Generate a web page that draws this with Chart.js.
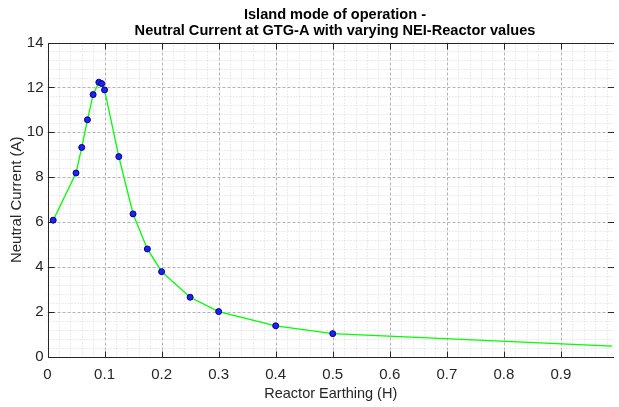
<!DOCTYPE html>
<html><head><meta charset="utf-8">
<script src="https://cdn.jsdelivr.net/npm/chart.js@4/dist/chart.umd.min.js"></script>
<style>html,body{margin:0;padding:0;background:#fff;overflow:hidden}#wrap{width:619px;height:407px;position:relative}</style>
</head><body><div id="wrap"><canvas id="c" width="619" height="407"></canvas></div>
<script>
// ---- data ----
const titleLines = ["Island mode of operation -", "Neutral Current at GTG-A with varying NEI-Reactor values"];
const xAxisTitle = "Reactor Earthing (H)";
const yAxisTitle = "Neutral Current (A)";
const xTicks = [0, 0.1, 0.2, 0.3, 0.4, 0.5, 0.6, 0.7, 0.8, 0.9];
const yTicks = [0, 2, 4, 6, 8, 10, 12, 14];
const reactorH = [0.01, 0.05, 0.06, 0.07, 0.08, 0.09, 0.095, 0.1, 0.125, 0.15, 0.175, 0.2, 0.25, 0.3, 0.4, 0.5];
const neutralA = [6.09, 8.19, 9.33, 10.56, 11.68, 12.23, 12.17, 11.89, 8.92, 6.37, 4.81, 3.80, 2.66, 2.02, 1.39, 1.04];
const tailH = [0.99];
const tailA = [0.48];
const xMax = 0.993;
const yMax = 14;

const markerPts = reactorH.map((h, i) => ({x: h, y: neutralA[i]}));
const linePts = markerPts.concat(tailH.map((h, i) => ({x: h, y: tailA[i]})));

const AX = '#262626';
const framePlugin = {
  id: 'frame',
  beforeDatasetsDraw(chart) {
    const {ctx, chartArea: a, scales: {x, y}} = chart;
    ctx.save();
    ctx.lineWidth = 1;
    const vline = (v, y0, y1) => { const p = Math.round(x.getPixelForValue(v)) + 0.5; ctx.beginPath(); ctx.moveTo(p, y0); ctx.lineTo(p, y1); ctx.stroke(); return p; };
    const hline = (v, x0, x1) => { const p = Math.round(y.getPixelForValue(v)) + 0.5; ctx.beginPath(); ctx.moveTo(x0, p); ctx.lineTo(x1, p); ctx.stroke(); return p; };
    // minor grid
    ctx.strokeStyle = '#d9d9d9'; ctx.setLineDash([1, 2]);
    for (let i = 1; i * 0.02 < xMax; i++) { if (i % 5) vline(i * 0.02, a.top, a.bottom); }
    for (let i = 1; i * 0.4 < yMax; i++) { if (i % 5) hline(i * 0.4, a.left, a.right); }
    // major grid
    ctx.strokeStyle = '#b3b3b3'; ctx.setLineDash([3, 2]);
    xTicks.forEach(v => { if (v > 0) vline(v, a.top, a.bottom); });
    yTicks.forEach(v => { if (v > 0 && v < yMax) hline(v, a.left, a.right); });
    // box
    ctx.setLineDash([]); ctx.strokeStyle = AX;
    const L = Math.round(a.left) + 0.5, B = Math.round(a.bottom) + 0.5, T = Math.round(a.top) + 0.5, R = a.right;
    ctx.beginPath(); ctx.moveTo(L, T); ctx.lineTo(R, T); ctx.moveTo(L, T); ctx.lineTo(L, B); ctx.lineTo(R, B); ctx.stroke();
    // inward ticks
    const tl = 6;
    xTicks.forEach(v => { vline(v, B, B - tl); vline(v, T, T + tl); });
    yTicks.forEach(v => { hline(v, L, L + tl); hline(v, R, R - tl); });
    ctx.restore();
  },
  afterDraw(chart) {
    const {ctx} = chart;
    ctx.save();
    ctx.fillStyle = '#000';
    ctx.font = 'bold 15.5px "Liberation Sans", Arial, sans-serif';
    ctx.textAlign = 'center';
    ctx.textBaseline = 'alphabetic';
    const baselines = [18.5, 35];
    titleLines.forEach((t, i) => {
      ctx.save();
      ctx.translate(335, baselines[i]);
      ctx.scale(0.94, 1);
      ctx.fillText(t, 0, 0);
      ctx.restore();
    });
    ctx.restore();
  }
};

new Chart(document.getElementById('c'), {
  type: 'scatter',
  data: {
    datasets: [
      {
        label: 'markers',
        data: markerPts,
        showLine: false,
        pointRadius: 3,
        pointBackgroundColor: '#2020ff',
        pointBorderColor: '#00007a',
        pointBorderWidth: 1
      },
      {
        label: 'line',
        data: linePts,
        showLine: true,
        borderColor: '#00ff00',
        borderWidth: 1.3,
        pointRadius: 0,
        tension: 0
      }
    ]
  },
  options: {
    responsive: false,
    animation: false,
    devicePixelRatio: 1,
    events: [],
    layout: {padding: {top: 42.5, right: 0, left: 0, bottom: 0}},
    plugins: {legend: {display: false}, tooltip: {enabled: false}, title: {display: false}},
    scales: {
      x: {
        type: 'linear', min: 0, max: xMax,
        afterFit(s) { s.height = 50; },
        afterBuildTicks(s) { s.ticks = xTicks.map(v => ({value: v})); },
        grid: {display: false, drawTicks: false},
        border: {display: false},
        ticks: {color: AX, font: {family: '"Liberation Sans", Arial, sans-serif', size: 15}, padding: 9, maxRotation: 0, autoSkip: false,
                callback: v => String(v)},
        title: {display: true, text: xAxisTitle, color: AX, font: {family: '"Liberation Sans", Arial, sans-serif', size: 14.5}, padding: {top: 0, bottom: 4}}
      },
      y: {
        type: 'linear', min: 0, max: yMax,
        afterFit(s) { s.width = 47.5; },
        afterBuildTicks(s) { s.ticks = yTicks.map(v => ({value: v})); },
        grid: {display: false, drawTicks: false},
        border: {display: false},
        ticks: {color: AX, font: {family: '"Liberation Sans", Arial, sans-serif', size: 15}, padding: 4, autoSkip: false,
                callback: v => String(v)},
        title: {display: true, text: yAxisTitle, color: AX, font: {family: '"Liberation Sans", Arial, sans-serif', size: 15}, padding: {top: 7.5, bottom: 0}}
      }
    }
  },
  plugins: [framePlugin]
});
</script></body></html>
